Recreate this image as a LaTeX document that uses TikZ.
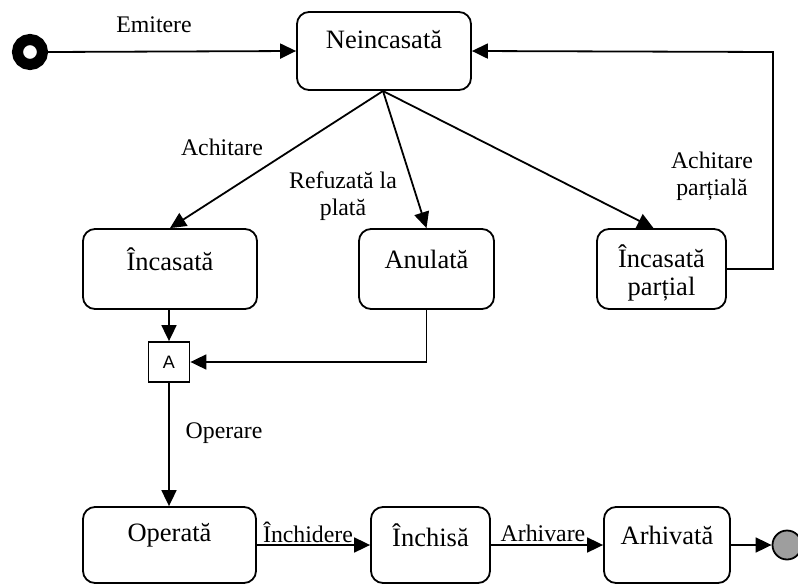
\documentclass[tikz,border=0pt]{standalone}
\usepackage{fontspec}
\setmainfont{Liberation Serif}
\newfontfamily\boxsans{Liberation Sans}
\usetikzlibrary{arrows.meta,calc}

\tikzset{
  statebox/.style={draw, line width=1.8pt, rounded corners=12pt, inner sep=0pt},
  statetext/.style={font=\fontsize{26.5}{28}\selectfont, align=center, inner sep=0pt},
  edgetext/.style={font=\fontsize{23.8}{27}\selectfont, align=center, inner sep=0pt},
  flow/.style={draw, line width=1.8pt, -{Triangle[length=16pt,width=15pt]}},
}

\begin{document}
\begin{tikzpicture}[x=1pt,y=-1pt]
  \useasboundingbox (0,0) rectangle (798,586);

  % initial and final pseudo-states
  \node[circle, draw, line width=11pt, minimum size=25pt, inner sep=0pt] (start) at (30,52) {};
  \node[circle, draw, line width=1.8pt, fill=black!38, minimum size=29pt, inner sep=0pt] (finish) at (787,545) {};

  % states
  \node[statebox, minimum width=174pt, minimum height=78pt,
        label={[statetext, yshift=11pt]center:Neincasată}] (neinc) at (384,51) {};
  \node[statebox, minimum width=174pt, minimum height=80pt,
        label={[statetext, yshift=10pt]center:Încasată}] (incas) at (170,269) {};
  \node[statebox, minimum width=135pt, minimum height=80pt,
        label={[statetext, yshift=10pt]center:Anulată}] (anul) at (426.5,269) {};
  \node[statebox, minimum width=129pt, minimum height=80pt,
        label={[statetext, yshift=-4pt]center:Încasată\\parțial}] (incpart) at (661.5,269) {};
  \node[draw, line width=1.8pt, minimum width=41pt, minimum height=40pt, inner sep=0pt,
        font=\boxsans\fontsize{18}{20}\selectfont] (jA) at (169,362) {A};
  \node[statebox, minimum width=173pt, minimum height=76pt,
        label={[statetext, yshift=10pt]center:Operată}] (oper) at (169.5,545) {};
  \node[statebox, minimum width=119pt, minimum height=76pt,
        label={[statetext, yshift=10pt]center:Închisă}] (inch) at (430.5,545) {};
  \node[statebox, minimum width=126pt, minimum height=76pt,
        label={[statetext, yshift=10pt]center:Arhivată}] (arh) at (667,545) {};

  % transition labels
  \node[edgetext] (lEmit) at (154,25) {Emitere};
  \node[edgetext] (lAchit) at (222,147) {Achitare};
  \node[edgetext] (lRef) at (343,196) {Refuzată la\\plată};
  \node[edgetext] (lPart) at (712,176) {Achitare\\parțială};
  \node[edgetext] (lOper) at (224,433) {Operare};
  \node[edgetext] (lInch) at (308,532) {Închidere};
  \node[edgetext] (lArh) at (543,533) {Arhivare};

  % transitions
  \coordinate (fan) at (383,91);
  \coordinate (backR) at (773,269);
  \coordinate (backT) at (773,52);

  \draw[flow] (start.east) -- (neinc.west);
  \draw[flow] (fan) -- (incas.north);
  \draw[flow] (fan) -- (anul.north);
  \draw[flow] (fan) -- ($(incpart.north)+(-8,0)$);
  \draw[flow] (incpart.east) -- (backR) -- (backT) -- (neinc.east);
  \draw[flow] (jA.north |- incas.south) -- (jA.north);
  \draw[flow] (anul.south) |- (jA.east);
  \draw[flow] (jA.south) -- (jA.south |- oper.north);
  \draw[flow] (oper.east) -- (inch.west);
  \draw[flow] (inch.east) -- (arh.west);
  \draw[flow] (arh.east) -- (finish.west);
\end{tikzpicture}
\end{document}
